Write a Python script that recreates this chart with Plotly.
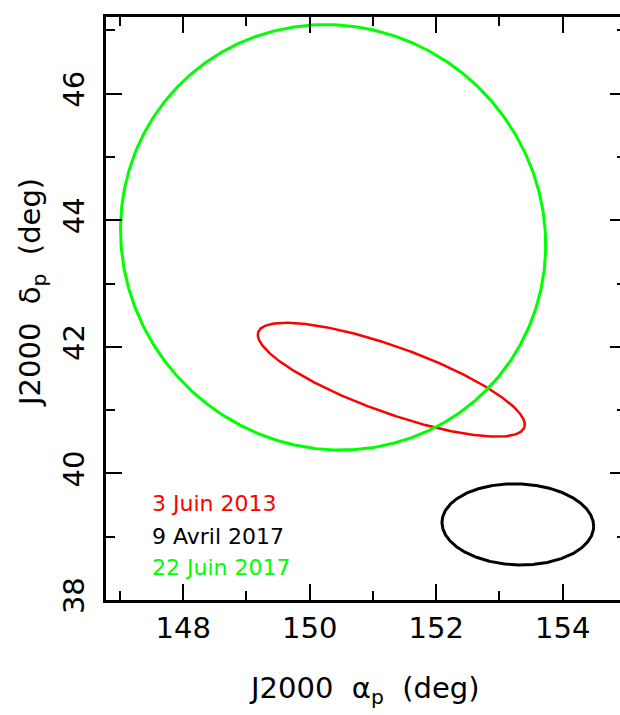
import numpy as np
import plotly.graph_objects as go

# Error-ellipse parameters (degrees)
labels = ["3 Juin 2013", "9 Avril 2017", "22 Juin 2017"]
colors = ["#ff0000", "#000000", "#00ff00"]
center_ra = [151.29, 153.29, 150.37]
center_dec = [41.48, 39.195, 43.73]
semi_major = [2.234, 1.1995, 3.42]
semi_minor = [0.5225, 0.640, 3.30]
angle_deg = [-19.7, -1.97, -45.0]
line_widths = [2.5, 3, 3]

x_ticks = [148, 150, 152, 154]
y_ticks = [38, 40, 42, 44, 46]

fig = go.Figure()
t = np.linspace(0, 2 * np.pi, 721)
for cx, cy, a, b, th, col, lw in zip(center_ra, center_dec, semi_major, semi_minor,
                                       angle_deg, colors, line_widths):
    r = np.deg2rad(th)
    xs = cx + a * np.cos(r) * np.cos(t) - b * np.sin(r) * np.sin(t)
    ys = cy + a * np.sin(r) * np.cos(t) + b * np.cos(r) * np.sin(t)
    fig.add_trace(go.Scatter(x=xs, y=ys, mode="lines",
                             line=dict(color=col, width=lw), showlegend=False,
                             hoverinfo="skip"))

font_main = "DejaVu Sans"

# legend texts
leg_y = [39.53, 39.01, 38.52]
for lab, col, yy in zip(labels, colors, leg_y):
    fig.add_annotation(x=147.48, y=yy, xref="x", yref="y", text=lab,
                       showarrow=False, xanchor="left", yanchor="middle",
                       font=dict(family=font_main, size=22, color=col))

fig.update_layout(
    width=630, height=715,
    margin=dict(l=106, r=4, t=17, b=115),
    plot_bgcolor="white", paper_bgcolor="white",
    xaxis=dict(range=[146.78, 155.0], tickvals=x_ticks,
               ticktext=[str(v) for v in x_ticks],
               ticks="inside", ticklen=16, tickwidth=2, tickcolor="black",
               showline=True, linewidth=2.5, linecolor="black", mirror="ticks",
               showgrid=False, zeroline=False, automargin=False,
               minor=dict(dtick=1, tick0=147, ticks="inside", ticklen=9,
                          tickwidth=2, tickcolor="black", showgrid=False),
               tickfont=dict(family=font_main, size=29, color="black")),
    yaxis=dict(range=[38, 47.21], tickvals=y_ticks,
               ticktext=[str(v) for v in y_ticks], tickangle=-90,
               ticks="inside", ticklen=16, tickwidth=2, tickcolor="black",
               showline=True, linewidth=2.5, linecolor="black", mirror="ticks",
               showgrid=False, zeroline=False, automargin=False,
               ticklabelstandoff=8,
               minor=dict(dtick=1, tick0=38, ticks="inside", ticklen=9,
                          tickwidth=2, tickcolor="black", showgrid=False),
               tickfont=dict(family=font_main, size=29, color="black")),
)

fig.add_annotation(x=0.498, y=-0.1544, xref="paper", yref="paper",
                   text="J2000  \u03b1<sub>p</sub>  (deg)", showarrow=False,
                   xanchor="center", yanchor="middle",
                   font=dict(family=font_main, size=29, color="black"))
fig.add_annotation(x=-0.1423, y=0.5266, xref="paper", yref="paper",
                   text="J2000  \u03b4<sub>p</sub>  (deg)", showarrow=False,
                   textangle=-90, xanchor="center", yanchor="middle",
                   font=dict(family=font_main, size=29, color="black"))

fig.write_html(
    "out.html",
    config={"displayModeBar": False},
    post_script="document.body.style.margin='0';"
                "document.body.style.overflow='hidden';"
                "document.documentElement.style.overflow='hidden';",
)
